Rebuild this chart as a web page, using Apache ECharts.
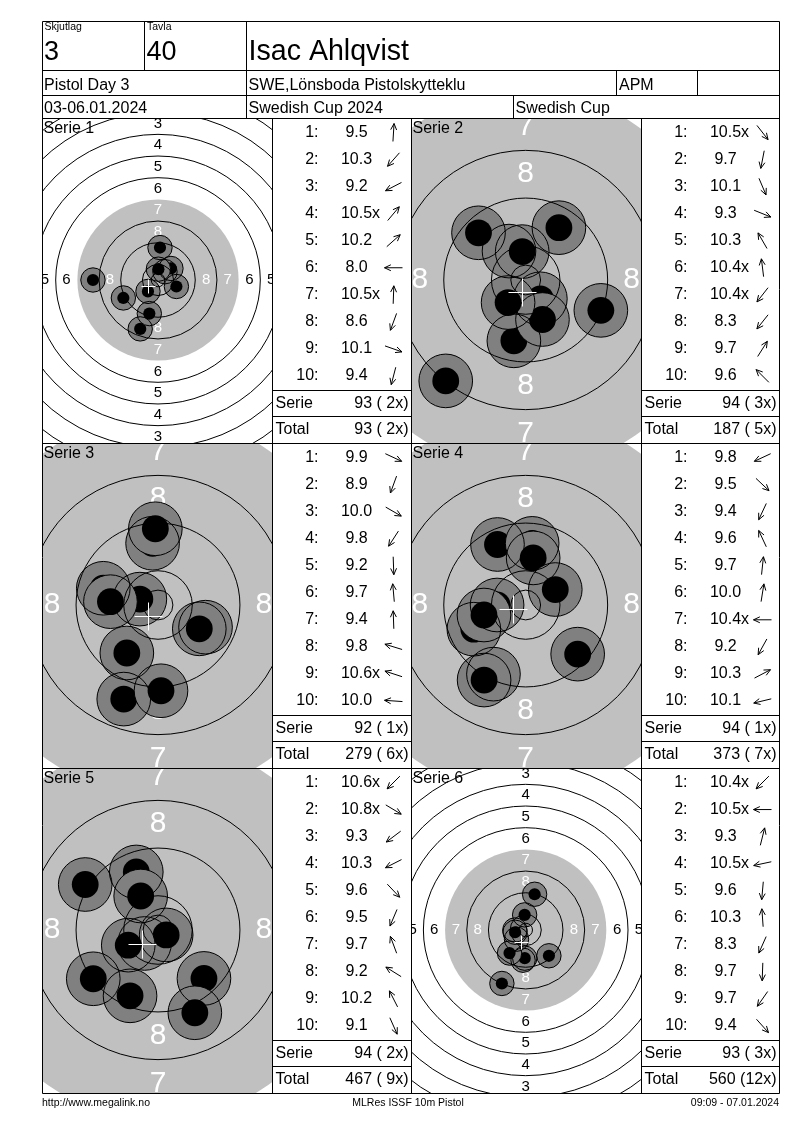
<!DOCTYPE html>
<html><head><meta charset="utf-8">
<script src="https://cdn.jsdelivr.net/npm/echarts@6/dist/echarts.min.js"></script>
<style>html,body{margin:0;padding:0;background:#fff}#c{width:800px;height:1130px}</style>
</head><body><div id="c"></div>
<script>
// ---------------- DATA ----------------
const headerLabels = ['Skjutlag', 'Tavla'];
const headerValues = ['3', '40'];
const shooterName = 'Isac Ahlqvist';
const eventInfo = ['Pistol Day 3', 'SWE,Lönsboda Pistolskytteklu', 'APM', ''];
const competitionInfo = ['03-06.01.2024', 'Swedish Cup 2024', 'Swedish Cup'];
const footerTexts = ['http://www.megalink.no', 'MLRes ISSF 10m Pistol', '09:09 - 07.01.2024'];

const serieNames = ['Serie 1', 'Serie 2', 'Serie 3', 'Serie 4', 'Serie 5', 'Serie 6'];
const targetViews = ['out', 'in', 'in', 'in', 'in', 'out'];

// decimal scores per shot (x = inner ten)
const serie1Scores = ['9.5', '10.3', '9.2', '10.5x', '10.2', '8.0', '10.5x', '8.6', '10.1', '9.4'];
const serie2Scores = ['10.5x', '9.7', '10.1', '9.3', '10.3', '10.4x', '10.4x', '8.3', '9.7', '9.6'];
const serie3Scores = ['9.9', '8.9', '10.0', '9.8', '9.2', '9.7', '9.4', '9.8', '10.6x', '10.0'];
const serie4Scores = ['9.8', '9.5', '9.4', '9.6', '9.7', '10.0', '10.4x', '9.2', '10.3', '10.1'];
const serie5Scores = ['10.6x', '10.8x', '9.3', '10.3', '9.6', '9.5', '9.7', '9.2', '10.2', '9.1'];
const serie6Scores = ['10.4x', '10.5x', '9.3', '10.5x', '9.6', '10.3', '8.3', '9.7', '9.7', '9.4'];

// direction of each shot from the target centre, degrees (0 = right, 90 = up)
const serie1Angles = [86.5, 228.6, 207.4, 50, 41.7, 180, 88, 250, 340.6, 255.5];
const serie2Angles = [308, 259, 293, 338, 120, 97, 232, 231.6, 57.6, 135];
const serie3Angles = [335, 250, 330, 237, 272, 95, 92, 163, 162, 176];
const serie4Angles = [205, 316.6, 245, 115, 84, 81, 180, 241, 27.6, 193.5];
const serie5Angles = [225, 329, 217, 207, 313.5, 247, 110.5, 148, 117, 294];
const serie6Angles = [225, 180, 76, 192, 265, 94, 246, 268, 235, 312];

const serieResults = ['93 ( 2x)', '94 ( 3x)', '92 ( 1x)', '94 ( 1x)', '94 ( 2x)', '93 ( 3x)'];
const totalResults = ['93 ( 2x)', '187 ( 5x)', '279 ( 6x)', '373 ( 7x)', '467 ( 9x)', '560 (12x)'];

// ISSF 10m air pistol target geometry (mm)
const ringNumbers = [8, 7, 6, 5, 4, 3, 2, 1];
const ringLabelRadius = [17.75, 25.75, 33.75, 41.75, 49.75, 57.75, 65.75, 73.75];
const ringLineRadius = [2.5, 5.75, 13.75, 21.75, 37.75, 45.75, 53.75, 61.75, 69.75, 77.75];

// ---------------- BUILD ----------------
const FONT = '"Liberation Sans", Arial, Helvetica, sans-serif';
const allScores = [serie1Scores, serie2Scores, serie3Scores, serie4Scores, serie5Scores, serie6Scores];
const allAngles = [serie1Angles, serie2Angles, serie3Angles, serie4Angles, serie5Angles, serie6Angles];

const VIEW = {
  in:  { scale: 5.96, gray: 31.9, labelFont: 30, cross: 14 },
  out: { scale: 2.71, gray: 29.75, labelFont: 15, cross: 7 }
};
const PELLET_R = 2.25, MARK_R = 4.5;

function shotXY(score, ang) {
  const s = Math.min(parseFloat(score), 10.9);
  const d = (11 - s) * 8;
  const a = ang * Math.PI / 180;
  return [d * Math.cos(a), d * Math.sin(a)];
}

const grids = [], xAxes = [], yAxes = [], series = [], g = [];

function line(x1, y1, x2, y2, color) {
  g.push({ type: 'line', silent: true, z: 100,
    shape: { x1, y1, x2, y2 }, style: { stroke: color || '#000', lineWidth: 1 } });
}
function text(t, x, y, size, align) {
  g.push({ type: 'text', silent: true, z: 101, x, y,
    style: { text: t, font: size + 'px ' + FONT, fill: '#000',
      align: align || 'left', verticalAlign: 'middle',
      textAlign: align || 'left', textVerticalAlign: 'middle' } });
}
function arrow(cx, cy, angDeg) {
  const L = 18, H = 7, a = angDeg * Math.PI / 180;
  const dx = Math.cos(a), dy = -Math.sin(a);
  const tx = cx + dx * L / 2, ty = cy + dy * L / 2;
  const sx = cx - dx * L / 2, sy = cy - dy * L / 2;
  const pts = [];
  [25, -25].forEach(h => {
    const b = Math.atan2(-dy, -dx) + h * Math.PI / 180;
    pts.push([tx + Math.cos(b) * H, ty + Math.sin(b) * H]);
  });
  g.push({ type: 'polyline', silent: true, z: 100,
    shape: { points: [[sx, sy], [tx, ty]] }, style: { stroke: '#000', lineWidth: 1, fill: 'none' } });
  g.push({ type: 'polyline', silent: true, z: 100,
    shape: { points: [pts[0], [tx, ty], pts[1]] }, style: { stroke: '#000', lineWidth: 1, fill: 'none' } });
}

// target panels
for (let k = 0; k < 6; k++) {
  const row = Math.floor(k / 2), col = k % 2;
  const v = VIEW[targetViews[k]];
  const L = col ? 412 : 43, T = 119 + 325 * row, W = 229, H = 324;
  const cx = W / 2 + (col ? -0.8 : 0.5), cy = H / 2 - 1;
  grids.push({ left: L, top: T, width: W, height: H, show: false, containLabel: false });
  xAxes.push({ type: 'value', gridIndex: k, show: false, min: -cx / v.scale, max: (W - cx) / v.scale });
  yAxes.push({ type: 'value', gridIndex: k, show: false, min: -(H - cy) / v.scale, max: cy / v.scale });

  const base = { type: 'custom', coordinateSystem: 'cartesian2d', xAxisIndex: k, yAxisIndex: k,
    clip: true, silent: true, animation: false, encode: { x: 0, y: 1 } };

  // aiming black (grey) disc
  series.push(Object.assign({}, base, { z: 1, data: [[0, 0]],
    renderItem: (p, api) => {
      const c = api.coord([0, 0]);
      return { type: 'circle', shape: { cx: c[0], cy: c[1], r: api.size([v.gray, 0])[0] },
        style: { fill: '#c0c0c0' } };
    } }));

  // ring numbers
  const lab = [];
  ringNumbers.forEach((n, i) => {
    const r = ringLabelRadius[i];
    lab.push([0, r, n], [r, 0, n], [0, -r, n], [-r, 0, n]);
  });
  series.push(Object.assign({}, base, { z: 2, data: lab,
    renderItem: (p, api) => {
      const c = api.coord([api.value(0), api.value(1)]);
      const n = api.value(2);
      return { type: 'text', x: c[0], y: c[1],
        style: { text: String(n), fill: n >= 7 ? '#ffffff' : '#000000',
          font: v.labelFont + 'px ' + FONT, align: 'center', verticalAlign: 'middle' } };
    } }));

  // shots
  const shots = allScores[k].map((s, i) => shotXY(s, allAngles[k][i]));
  series.push(Object.assign({}, base, { z: 3, data: shots,
    renderItem: (p, api) => {
      const c = api.coord([api.value(0), api.value(1)]);
      return { type: 'group', children: [
        { type: 'circle', shape: { cx: c[0], cy: c[1], r: api.size([MARK_R, 0])[0] }, style: { fill: '#808080' } },
        { type: 'circle', shape: { cx: c[0], cy: c[1], r: api.size([PELLET_R, 0])[0] }, style: { fill: '#000000' } }
      ] };
    } }));
  series.push(Object.assign({}, base, { z: 4, data: shots,
    renderItem: (p, api) => {
      const c = api.coord([api.value(0), api.value(1)]);
      return { type: 'circle', shape: { cx: c[0], cy: c[1], r: api.size([MARK_R, 0])[0] },
        style: { fill: 'none', stroke: '#000', lineWidth: 1 } };
    } }));

  // ring lines
  series.push(Object.assign({}, base, { z: 5, data: ringLineRadius.map(r => [0, 0, r]),
    renderItem: (p, api) => {
      const c = api.coord([0, 0]);
      return { type: 'circle', shape: { cx: c[0], cy: c[1], r: api.size([api.value(2), 0])[0] },
        style: { fill: 'none', stroke: '#000', lineWidth: 1 } };
    } }));

  // mean point of impact
  const mx = shots.reduce((a, s) => a + s[0], 0) / shots.length;
  const my = shots.reduce((a, s) => a + s[1], 0) / shots.length;
  series.push(Object.assign({}, base, { z: 6, data: [[mx, my]],
    renderItem: (p, api) => {
      const c = api.coord([api.value(0), api.value(1)]);
      const x = Math.round(c[0]) + 0.5, y = Math.round(c[1]) + 0.5, d = v.cross;
      return { type: 'group', children: [
        { type: 'line', shape: { x1: x - d, y1: y, x2: x + d, y2: y }, style: { stroke: '#fff', lineWidth: 1 } },
        { type: 'line', shape: { x1: x, y1: y - d, x2: x, y2: y + d }, style: { stroke: '#fff', lineWidth: 1 } }
      ] };
    } }));

  // series name
  text(serieNames[k], L + 0.5, T + 10, 16, 'left');
}

// tables
for (let k = 0; k < 6; k++) {
  const row = Math.floor(k / 2), col = k % 2;
  const tl = col ? 641.5 : 272.5, tr = col ? 779.5 : 411.5, T = 118.5 + 325 * row;
  allScores[k].forEach((s, i) => {
    const y = T + 14 + 27.05 * i;
    text((i + 1) + ':', tl + 46, y, 16, 'right');
    const num = s.replace('x', '');
    text(num, tl + 84, y, 16, 'center');
    if (s.indexOf('x') >= 0) text('x', tl + 99.5, y, 16, 'left');
    arrow(tl + 121, y, allAngles[k][i]);
  });
  line(tl, T + 272, tr, T + 272);
  line(tl, T + 298, tr, T + 298);
  text('Serie', tl + 3, T + 285, 16, 'left');
  text(serieResults[k], tr - 3, T + 285, 16, 'right');
  text('Total', tl + 3, T + 311, 16, 'left');
  text(totalResults[k], tr - 3, T + 311, 16, 'right');
}

// frame & header grid
const X0 = 42.5, X1 = 272.5, X2 = 411.5, X3 = 641.5, X4 = 779.5;
const Y0 = 21.5, YH1 = 70.5, YH2 = 95.5, YH3 = 118.5, YEND = 1093.5;
line(X0, Y0, X4, Y0); line(X0, YEND, X4, YEND);
line(X0, Y0, X0, YEND); line(X4, Y0, X4, YEND);
line(X0, YH1, X4, YH1); line(X0, YH2, X4, YH2); line(X0, YH3, X4, YH3);
line(X0, 443.5, X4, 443.5); line(X0, 768.5, X4, 768.5);
line(X1, YH3, X1, YEND); line(X2, YH3, X2, YEND); line(X3, YH3, X3, YEND);
line(144.5, Y0, 144.5, YH1); line(246.5, Y0, 246.5, YH3);
line(616.5, YH1, 616.5, YH2); line(697.5, YH1, 697.5, YH2);
line(513.5, YH2, 513.5, YH3);

text(headerLabels[0], 44.5, 27.5, 10.5, 'left');
text(headerLabels[1], 147, 27.5, 10.5, 'left');
text(headerValues[0], 44, 53, 27, 'left');
text(headerValues[1], 146.5, 53, 27, 'left');
text(shooterName, 248.5, 52, 28.6, 'left');
text(eventInfo[0], 44, 86, 16, 'left');
text(eventInfo[1], 248.5, 86, 16, 'left');
text(eventInfo[2], 619, 86, 16, 'left');
text(eventInfo[3], 700, 86, 16, 'left');
text(competitionInfo[0], 44, 108.5, 16, 'left');
text(competitionInfo[1], 248.5, 108.5, 16, 'left');
text(competitionInfo[2], 515.5, 108.5, 16, 'left');

text(footerTexts[0], 42, 1103, 10.5, 'left');
text(footerTexts[1], 408, 1103, 10.5, 'center');
text(footerTexts[2], 779, 1103, 10.5, 'right');

const chart = echarts.init(document.getElementById('c'), null, { renderer: 'canvas' });
chart.setOption({
  backgroundColor: '#ffffff',
  animation: false,
  grid: grids, xAxis: xAxes, yAxis: yAxes,
  series: series,
  graphic: { elements: g }
});
</script></body></html>
